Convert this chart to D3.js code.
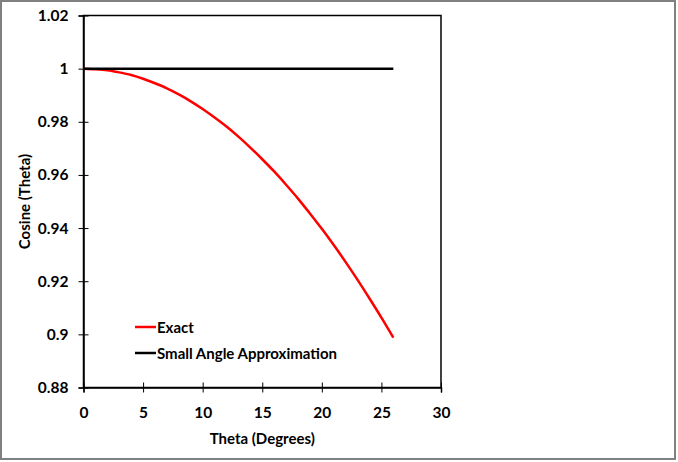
<!DOCTYPE html>
<meta charset="utf-8">
<script src="https://d3js.org/d3.v7.min.js"></script>
<style>
body { margin: 0; background: #fff; }
svg { display: block; }
text { font-family: Lato, "Open Sans", sans-serif; font-weight: bold; fill: #000; }
</style>
<body>
<div class="chart"></div>
<script>

// theta in degrees and the values
var theta = [0, 1, 2, 3, 4, 5, 6, 7, 8, 9, 10, 11, 12, 13, 14, 15, 16, 17, 18, 19, 20, 21, 22, 23, 24, 25, 26];
var exact = [1, 0.9998, 0.9994, 0.9986, 0.9976, 0.9962, 0.9945, 0.9926, 0.9903, 0.9877, 0.9848,
             0.9816, 0.9782, 0.9744, 0.9703, 0.9659, 0.9613, 0.9563, 0.9511, 0.9455, 0.9397,
             0.9336, 0.9272, 0.9205, 0.9135, 0.9063, 0.8988];
var approx = [1, 1, 1, 1, 1, 1, 1, 1, 1, 1, 1, 1, 1, 1, 1, 1, 1, 1, 1, 1, 1, 1, 1, 1, 1, 1, 1];
var xTicks = [0, 5, 10, 15, 20, 25, 30];
var yTicks = [0.88, 0.9, 0.92, 0.94, 0.96, 0.98, 1, 1.02];
var seriesNames = ["Exact", "Small Angle Approximation"];
var seriesColors = ["#ff0000", "#000000"];

var W = 678, H = 462;
var margin = {top: 15.5, right: 237, bottom: 74.5, left: 83.5};
var fs = "15px", tfs = "15.5px";

var svg = d3.select(".chart").append("svg")
    .attr("width", W)
    .attr("height", H);

// outer frame
svg.append("rect")
    .attr("x", 1).attr("y", 1)
    .attr("width", W - 4).attr("height", H - 4)
    .attr("fill", "#fff")
    .attr("stroke", "#808080")
    .attr("stroke-width", 2);

var x = d3.scaleLinear().domain([0, 30]).range([margin.left, W - margin.right]);
var y = d3.scaleLinear().domain([0.88, 1.02]).range([H - margin.bottom, margin.top]);

// plot border
svg.append("rect")
    .attr("x", x(0)).attr("y", y(1.02))
    .attr("width", x(30) - x(0)).attr("height", y(0.88) - y(1.02))
    .attr("fill", "none")
    .attr("stroke", "#000")
    .attr("stroke-width", 1.5);

// axes with crossing ticks
var xAxis = svg.append("g")
    .attr("transform", "translate(0," + y(0.88) + ")")
    .call(d3.axisBottom(x).tickValues(xTicks).tickSize(5).tickPadding(14).tickFormat(d3.format("d")));
xAxis.selectAll(".tick line").attr("y1", -5);

var yAxis = svg.append("g")
    .attr("transform", "translate(" + x(0) + ",0)")
    .call(d3.axisLeft(y).tickValues(yTicks).tickSize(5).tickPadding(10)
      .tickFormat(function(d) { return d3.format("")(+d.toFixed(2)); }));
yAxis.selectAll(".tick line").attr("x1", 5);

[xAxis, yAxis].forEach(function(a) {
  a.select(".domain").attr("stroke", "#000").attr("stroke-width", 1.5);
  a.selectAll(".tick line").attr("stroke", "#000").attr("stroke-width", 1);
  a.selectAll(".tick text").style("font-size", tfs).attr("fill", "#000");
});

// axis titles
svg.append("text")
    .attr("x", (x(0) + x(30)) / 2)
    .attr("y", 444)
    .attr("text-anchor", "middle")
    .style("font-size", fs)
    .text("Theta (Degrees)");

svg.append("text")
    .attr("transform", "translate(30," + (y(0.95)) + ") rotate(-90)")
    .attr("text-anchor", "middle")
    .style("font-size", fs)
    .text("Cosine (Theta)");

// lines
var line = d3.line()
    .x(function(d) { return x(d[0]); })
    .y(function(d) { return y(d[1]); })
    .curve(d3.curveMonotoneX);

var series = [exact, approx];
series.forEach(function(vals, i) {
  svg.append("path")
      .datum(d3.zip(theta, vals))
      .attr("fill", "none")
      .attr("stroke", seriesColors[i])
      .attr("stroke-width", 2.5)
      .attr("d", line);
});

// legend
var legend = svg.selectAll(".legend")
    .data(seriesNames)
    .enter().append("g")
    .attr("class", "legend")
    .attr("transform", function(d, i) { return "translate(135," + (327 + i * 26) + ")"; });

legend.append("line")
    .attr("x1", 0).attr("x2", 21)
    .attr("stroke", function(d, i) { return seriesColors[i]; })
    .attr("stroke-width", 2.5);

legend.append("text")
    .attr("x", 22)
    .attr("y", 5.5)
    .style("font-size", fs)
    .text(function(d) { return d; });

</script>
</body>
</html>
